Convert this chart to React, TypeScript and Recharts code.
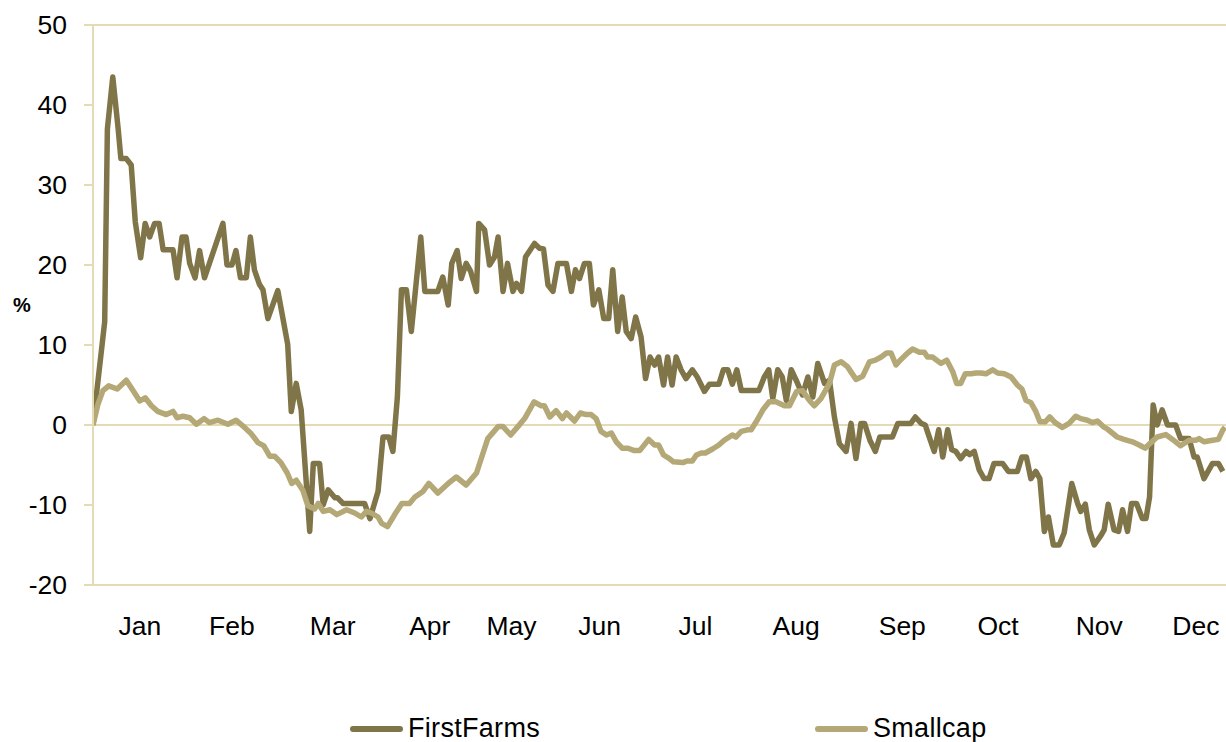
import React from "react"
import { LineChart, Line, XAxis, YAxis, ReferenceLine } from "recharts"

// trading-day index (x) and % return for each series
const fDay = [0, 2.6, 3.2, 4.4, 5.6, 6.2, 7.4, 8.5, 9.4, 10.6, 11.6, 12.6, 13.7, 14.7, 15.6, 17.8, 18.7, 19.8, 20.7, 21.5, 22.7, 23.7, 24.8, 28.9, 29.8, 30.9, 31.8, 32.8, 34.1, 35.0, 35.9, 37.0, 37.8, 38.9, 41.1, 43.3, 44.1, 45.2, 46.3, 48.2, 49.0, 50.4, 51.2, 52.3, 53.8, 54.4, 55.6, 60.4, 61.6, 63.4, 64.5, 65.8, 66.7, 67.7, 68.6, 69.7, 70.8, 72.9, 73.8, 76.7, 77.8, 79.0, 79.8, 81.0, 81.9, 83.0, 84.0, 85.3, 85.8, 87.1, 88.2, 89.3, 90.1, 91.2, 92.2, 93.4, 94.2, 95.3, 96.2, 98.2, 99.3, 100.2, 101.2, 102.3, 103.4, 105.3, 106.4, 107.3, 108.2, 109.3, 110.4, 111.3, 112.5, 113.6, 114.7, 115.6, 116.7, 117.7, 118.6, 119.7, 120.7, 121.9, 122.9, 123.9, 124.9, 125.8, 126.9, 127.8, 128.8, 129.7, 130.8, 131.9, 133.3, 134.4, 136.0, 137.1, 139.2, 140.2, 141.2, 142.2, 143.2, 144.2, 148.1, 149.3, 150.3, 151.2, 152.3, 153.3, 154.2, 155.3, 156.4, 157.8, 159.0, 160.1, 161.2, 162.7, 163.8, 164.9, 166.0, 167.5, 168.6, 169.7, 170.8, 171.6, 172.8, 174.0, 175.0, 177.8, 179.0, 181.9, 182.9, 184.2, 185.1, 186.0, 187.1, 188.1, 189.0, 190.1, 191.0, 191.9, 193.0, 194.2, 195.0, 196.0, 197.1, 198.2, 199.3, 200.4, 202.3, 203.6, 205.6, 206.6, 207.6, 208.6, 209.7, 210.6, 211.6, 212.5, 213.6, 214.9, 216.0, 217.7, 219.0, 219.7, 220.7, 221.6, 222.7, 224.2, 224.9, 225.8, 227.1, 228.1, 229.0, 230.1, 231.0, 232.1, 233.4, 234.2, 235.0, 235.8, 236.7, 237.8, 239.0, 240.8, 241.9, 243.8, 244.9, 245.6, 247.1, 249.0, 250.3, 251.3]
const fVal = [0, 12.9, 37, 43.5, 37, 33.3, 33.3, 32.5, 25.4, 20.9, 25.2, 23.5, 25.2, 25.2, 21.9, 21.9, 18.4, 23.5, 23.5, 20.2, 18.4, 21.8, 18.4, 25.2, 20, 20, 21.8, 18.4, 18.4, 23.5, 19.4, 17.6, 16.9, 13.3, 16.8, 10.1, 1.7, 5.2, 1.9, -13.3, -4.8, -4.8, -10, -8.1, -9.1, -9.1, -9.8, -9.8, -11.7, -8.3, -1.5, -1.5, -3.3, 3.5, 16.9, 16.9, 11.7, 23.5, 16.7, 16.7, 18.5, 15, 20.2, 21.8, 18.3, 20.2, 19.2, 16.7, 25.2, 24.4, 20, 21, 23.5, 16.7, 20.2, 16.7, 17.7, 16.7, 21, 22.7, 22.1, 22, 17.5, 16.7, 20.2, 20.2, 16.7, 19.4, 18.3, 20.2, 20.2, 15, 16.9, 13.3, 13.3, 19.4, 11.7, 16, 11.7, 10.8, 13.5, 11, 5.8, 8.5, 7.5, 8.5, 5, 8.5, 5, 8.5, 6.9, 5.8, 6.9, 6, 4.2, 5.1, 5.1, 6.9, 6.9, 5.1, 6.9, 4.3, 4.3, 6, 6.9, 3.3, 6.9, 6, 3.1, 6.9, 5.6, 3.75, 6, 3.5, 7.7, 5.2, 5.6, 1, -2.3, -3.3, 0.2, -4.2, 0.2, 0.2, -1.9, -3.3, -1.5, -1.5, 0.2, 0.2, 1, 0.2, 0, -1.5, -3.3, -0.6, -4, -0.6, -3.1, -3.3, -4.2, -3.3, -3.7, -3.3, -5.6, -6.7, -6.7, -4.8, -4.8, -5.8, -5.8, -4, -4, -6.7, -5.8, -6.7, -13.3, -11.5, -15, -15, -13.5, -7.3, -9.8, -10.8, -9.9, -13.1, -15, -13.8, -13.1, -9.9, -13.1, -13.3, -10.6, -13.3, -9.8, -9.8, -11.7, -11.7, -9, 2.5, 0, 1.9, 0, 0, -1.7, -1.7, -4, -4, -6.7, -4.8, -4.8, -5.8]

const sDay = [0, 1.1, 2.2, 3.5, 5.4, 7.4, 8.9, 10.4, 11.6, 13.0, 14.4, 16.3, 17.8, 18.7, 20.0, 21.5, 23.0, 24.7, 25.9, 27.8, 30.0, 31.8, 33.3, 35.2, 36.7, 38.0, 39.3, 40.4, 41.8, 43.2, 44.2, 45.2, 46.7, 47.8, 49.3, 50.1, 51.2, 52.7, 54.2, 56.4, 58.2, 59.7, 60.8, 61.9, 63.4, 64.2, 65.5, 67.1, 68.7, 70.4, 71.6, 73.4, 74.7, 76.7, 79.0, 80.8, 83.0, 85.3, 87.8, 90.1, 91.2, 92.9, 94.5, 96.0, 98.1, 99.7, 100.4, 101.6, 103.0, 104.4, 105.3, 107.1, 108.4, 109.7, 110.8, 111.9, 113.0, 114.2, 115.3, 116.4, 117.7, 119.0, 120.4, 121.6, 123.6, 124.9, 125.8, 126.9, 128.2, 129.1, 131.2, 132.1, 133.3, 134.2, 135.3, 136.2, 137.8, 139.2, 140.4, 142.2, 143.0, 144.2, 145.6, 146.4, 147.5, 149.0, 150.4, 151.9, 153.8, 154.9, 156.5, 157.8, 159.3, 160.4, 161.9, 163.8, 164.9, 166.4, 167.8, 169.7, 171.2, 172.7, 174.0, 175.3, 176.5, 177.5, 178.6, 179.7, 181.2, 182.3, 183.8, 184.9, 185.6, 186.7, 188.6, 189.9, 191.2, 192.1, 193.0, 194.0, 195.3, 196.4, 197.5, 198.6, 200.1, 201.2, 202.7, 204.2, 205.6, 206.6, 207.5, 208.6, 209.7, 210.6, 211.8, 212.8, 214.0, 215.6, 217.1, 218.6, 219.7, 221.2, 222.3, 223.4, 224.7, 225.6, 226.7, 227.8, 229.3, 231.2, 232.7, 234.0, 235.3, 236.7, 238.6, 240.1, 241.9, 243.8, 245.3, 246.0, 247.1, 249.0, 250.3, 251.3, 251.8]
const sVal = [0, 2.6, 4.3, 4.9, 4.5, 5.6, 4.3, 3, 3.4, 2.4, 1.7, 1.3, 1.7, 0.9, 1.1, 0.9, 0.1, 0.8, 0.3, 0.6, 0.1, 0.6, -0.1, -1.1, -2.2, -2.6, -3.9, -3.9, -4.7, -6, -7.3, -6.9, -8.2, -10.1, -10.5, -9.8, -10.8, -10.6, -11.2, -10.6, -11, -11.5, -10.8, -11, -11.5, -12.3, -12.7, -11.2, -9.8, -9.8, -9, -8.3, -7.3, -8.5, -7.3, -6.5, -7.5, -6, -1.7, -0.2, -0.2, -1.25, -0.2, 0.8, 2.9, 2.4, 2.4, 1, 1.8, 0.8, 1.5, 0.5, 1.5, 1.3, 1.3, 0.8, -0.8, -1.25, -1, -2.1, -2.9, -2.9, -3.2, -3.2, -1.8, -2.5, -2.5, -3.75, -4.2, -4.6, -4.7, -4.5, -4.5, -3.75, -3.5, -3.5, -3, -2.5, -1.9, -1.25, -1.5, -0.8, -0.6, -0.6, 0.4, 1.9, 2.9, 2.9, 2.4, 2.4, 4.2, 4.3, 3.1, 2.4, 3.3, 5.2, 7.5, 7.9, 7.3, 5.7, 6.1, 7.9, 8.1, 8.5, 9, 9, 7.5, 8.2, 9, 9.5, 9.1, 9.1, 8.5, 8.5, 7.7, 8.1, 6.7, 5.2, 5.2, 6.4, 6.4, 6.5, 6.5, 6.4, 6.9, 6.5, 6.4, 6, 5, 4.5, 3.1, 2.8, 1.7, 0.4, 0.4, 1, 0.3, -0.3, 0.2, 1.1, 0.8, 0.6, 0.3, 0.5, -0.2, -0.5, -1, -1.5, -1.8, -2.1, -2.5, -2.9, -2.2, -1.5, -1.2, -1.8, -2.6, -1.9, -1.9, -1.7, -2.1, -1.9, -1.8, -0.6, -0.3]

const monthTicks = [10.4, 30.9, 53.3, 74.9, 93.1, 112.7, 134, 156.4, 180, 201.3, 223.8, 245.3]
const monthLabels = ["Jan", "Feb", "Mar", "Apr", "May", "Jun", "Jul", "Aug", "Sep", "Oct", "Nov", "Dec"]
const yTicks = [-20, -10, 0, 10, 20, 30, 40, 50]

const firstFarms = fDay.map((d, i) => ({ d, v: fVal[i] }))
const smallcap = sDay.map((d, i) => ({ d, v: sVal[i] }))

const DARK = "#807548"
const LIGHT = "#b4a877"
const GRID = "#e6dab4"
const FONT = "'Liberation Sans', Arial, sans-serif"

function LegendItem({ color, label, left }: { color: string; label: string; left: number }) {
  return (
    <div style={{ position: "absolute", left, top: 713, display: "flex", alignItems: "center" }}>
      <div style={{ width: 53, height: 6, borderRadius: 3, background: color }} />
      <span style={{ marginLeft: 5, fontSize: 27, letterSpacing: 0.3, fontFamily: FONT, color: "#000" }}>{label}</span>
    </div>
  )
}

export default function App() {
  return (
    <div style={{ position: "relative", width: 1226, height: 742, background: "#fff", overflow: "hidden" }}>
      <style>{"body{margin:0}"}</style>
      <LineChart width={1226} height={742} margin={{ top: 25, right: 0, bottom: 97, left: 0 }}>
        <XAxis
          type="number"
          dataKey="d"
          domain={[0, 252]}
          ticks={monthTicks}
          tickFormatter={(t: number) => monthLabels[monthTicks.indexOf(t)]}
          tickLine={false}
          tickSize={0}
          tickMargin={31}
          height={60}
          axisLine={{ stroke: GRID, strokeWidth: 2 }}
          tick={{ fill: "#000", fontSize: 26.5, fontFamily: FONT }}
          allowDataOverflow
        />
        <YAxis
          type="number"
          domain={[-20, 50]}
          ticks={yTicks}
          width={93}
          tickSize={9}
          tickMargin={17}
          axisLine={{ stroke: GRID, strokeWidth: 2 }}
          tickLine={{ stroke: GRID, strokeWidth: 2 }}
          tick={{ fill: "#000", fontSize: 26.5, fontFamily: FONT }}
          label={{ value: "%", position: "insideLeft", offset: 13, style: { fill: "#000", fontSize: 20, fontWeight: "bold", fontFamily: FONT } }}
        />
        <ReferenceLine y={50} stroke={GRID} strokeWidth={2} />
        <ReferenceLine y={0} stroke={GRID} strokeWidth={2} />
        <Line data={firstFarms} dataKey="v" type="linear" stroke={DARK} strokeWidth={5.5} dot={false} strokeLinejoin="round" isAnimationActive={false} />
        <Line data={smallcap} dataKey="v" type="linear" stroke={LIGHT} strokeWidth={5.5} dot={false} strokeLinejoin="round" isAnimationActive={false} />
      </LineChart>
      <LegendItem color={DARK} label="FirstFarms" left={350} />
      <LegendItem color={LIGHT} label="Smallcap" left={815} />
    </div>
  )
}
